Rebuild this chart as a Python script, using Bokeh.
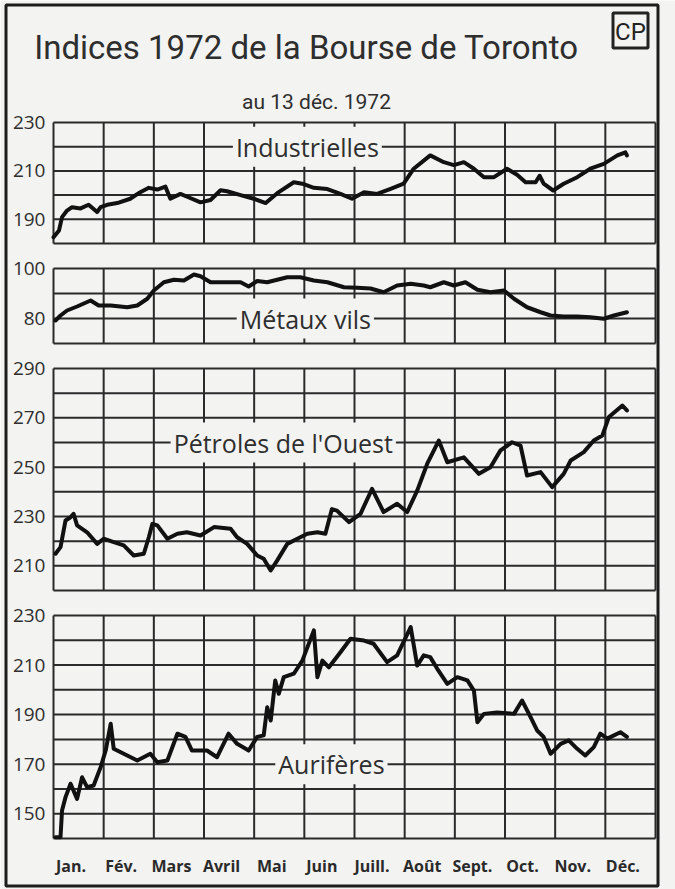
from bokeh.plotting import figure
from bokeh.models import Range1d, Label
from bokeh.embed import file_html
from bokeh.resources import INLINE
from bokeh.core.properties import value

# ---------------- data (x in months since Jan 1, 1972) ----------------
months = ["Jan.", "Fév.", "Mars", "Avril", "Mai", "Juin",
          "Juill.", "Août", "Sept.", "Oct.", "Nov.", "Déc."]

ind_x = [0.00, 0.11, 0.17, 0.27, 0.37, 0.54, 0.70, 0.87, 0.94, 1.07, 1.27, 1.53,
         1.73, 1.90, 2.07, 2.23, 2.33, 2.53, 2.70, 2.93, 3.13, 3.33, 3.46, 3.73,
         3.99, 4.23, 4.46, 4.79, 4.96, 5.19, 5.46, 5.72, 5.95, 6.19, 6.45, 6.72,
         6.98, 7.18, 7.51, 7.78, 7.98, 8.18, 8.38, 8.58, 8.78, 9.04, 9.24, 9.41,
         9.61, 9.69, 9.77, 9.96, 10.17, 10.44, 10.70, 10.97, 11.24, 11.40, 11.43]
ind_y = [182.6, 185.4, 190.9, 193.6, 195.0, 194.5, 196.0, 193.0, 195.0, 196.0, 196.7, 198.5,
         201.2, 203.0, 202.3, 203.5, 198.5, 200.5, 199.0, 197.0, 198.0, 202.0, 201.6, 200.0,
         198.5, 196.7, 200.8, 205.3, 204.7, 203.0, 202.5, 200.5, 198.5, 201.2, 200.5, 202.6,
         204.7, 210.9, 216.4, 213.6, 212.4, 213.6, 210.9, 207.4, 207.4, 210.9, 208.4, 205.3,
         205.3, 208.0, 204.7, 201.9, 204.7, 207.4, 210.9, 212.9, 216.4, 217.7, 216.4]

met_x = [0.04, 0.14, 0.27, 0.47, 0.74, 0.90, 1.14, 1.47, 1.67, 1.87, 2.00, 2.20,
         2.40, 2.60, 2.80, 2.93, 3.13, 3.46, 3.73, 3.89, 4.06, 4.26, 4.46, 4.66,
         4.92, 5.19, 5.46, 5.79, 6.05, 6.32, 6.58, 6.85, 7.12, 7.38, 7.51, 7.78,
         7.98, 8.21, 8.45, 8.71, 8.98, 9.18, 9.44, 9.71, 9.91, 10.17, 10.44, 10.70,
         10.97, 11.17, 11.43]
met_y = [79.2, 81.2, 83.2, 84.8, 87.2, 85.2, 85.2, 84.5, 85.2, 87.9, 91.2, 94.5,
         95.5, 95.2, 97.6, 96.9, 94.5, 94.5, 94.5, 92.8, 95.0, 94.5, 95.5, 96.5,
         96.5, 95.2, 94.5, 92.5, 92.3, 92.0, 90.5, 93.2, 93.9, 93.2, 92.5, 94.5,
         93.2, 94.5, 91.5, 90.5, 91.2, 87.9, 84.5, 82.5, 81.2, 80.8, 80.8, 80.5,
         79.9, 81.2, 82.5]

pet_x = [0.04, 0.14, 0.24, 0.34, 0.40, 0.47, 0.67, 0.87, 1.00, 1.20, 1.40, 1.60,
         1.80, 1.90, 1.97, 2.07, 2.27, 2.47, 2.66, 2.93, 3.20, 3.53, 3.66, 3.86,
         4.06, 4.19, 4.33, 4.46, 4.66, 4.86, 5.06, 5.26, 5.42, 5.55, 5.65, 5.89,
         6.12, 6.35, 6.58, 6.85, 7.05, 7.25, 7.45, 7.68, 7.85, 8.18, 8.48, 8.71,
         8.91, 9.14, 9.31, 9.44, 9.71, 9.94, 10.17, 10.31, 10.57, 10.77, 10.94, 11.07,
         11.34, 11.43]
pet_y = [214.9, 217.6, 228.4, 229.7, 231.1, 226.4, 223.6, 218.9, 221.0, 219.6, 218.3, 214.2,
         214.9, 221.6, 227.0, 226.4, 221.0, 223.0, 223.6, 222.3, 225.7, 225.0, 221.6, 218.9,
         214.2, 212.9, 208.1, 212.2, 218.9, 221.0, 223.0, 223.6, 223.0, 233.0, 232.4, 227.7,
         231.1, 241.2, 231.8, 235.2, 231.8, 240.5, 251.4, 260.8, 252.0, 254.0, 247.3, 250.0,
         256.8, 260.1, 258.7, 246.6, 248.0, 241.9, 247.3, 252.7, 256.1, 260.8, 262.8, 270.3,
         275.0, 273.0]

aur_x = [0.04, 0.14, 0.17, 0.24, 0.34, 0.47, 0.57, 0.67, 0.80, 0.94, 1.04, 1.14,
         1.20, 1.40, 1.67, 1.93, 2.07, 2.27, 2.47, 2.63, 2.76, 3.06, 3.26, 3.49,
         3.66, 3.89, 4.06, 4.19, 4.26, 4.33, 4.42, 4.49, 4.59, 4.79, 4.96, 5.19,
         5.26, 5.36, 5.49, 5.72, 5.92, 6.19, 6.38, 6.65, 6.85, 7.12, 7.25, 7.38,
         7.51, 7.65, 7.85, 8.05, 8.25, 8.38, 8.45, 8.58, 8.84, 9.18, 9.34, 9.51,
         9.64, 9.77, 9.91, 10.11, 10.27, 10.44, 10.60, 10.77, 10.90, 11.04, 11.30, 11.43]
aur_y = [140.5, 140.5, 151.3, 156.7, 162.1, 156.0, 164.7, 160.7, 161.4, 168.8, 175.5, 186.3,
         176.2, 174.2, 171.5, 174.2, 170.8, 171.5, 182.3, 181.0, 175.5, 175.5, 172.8, 182.3,
         178.2, 175.5, 181.0, 181.6, 193.0, 187.6, 203.8, 198.4, 205.1, 206.5, 211.8, 224.0,
         205.1, 211.8, 209.1, 215.2, 220.6, 219.9, 218.6, 211.2, 213.9, 225.3, 209.8, 213.9,
         213.2, 208.5, 202.4, 205.1, 203.8, 199.7, 186.9, 190.3, 190.9, 190.3, 195.7, 189.0,
         183.6, 181.0, 174.2, 178.2, 179.6, 176.2, 173.5, 176.9, 182.3, 180.3, 182.9, 181.0]

ind_ticks = [230, 210, 190]
met_ticks = [100, 80]
pet_ticks = [290, 270, 250, 230, 210]
aur_ticks = [230, 210, 190, 170, 150]

# ---------------- layout (page pixels) ----------------
W, H = 675, 889
OX, OY = 0, 0                      # figure origin on the page
GX0, GX1 = 53, 655                 # month grid left / right
BG = "#f3f3f1"
INK = "#1c1c1c"
GRID = "#2a2a2a"
TXT = "#2e2e2e"

panels = [
    # key, series x, y, vmin, vmax, ticks, page top, page bottom, label, label x (month), label value
    ("ind", ind_x, ind_y, 180, 230, ind_ticks, 122, 243, "Industrielles", 5.06, 220),
    ("met", met_x, met_y, 70, 100, met_ticks, 268, 343, "Métaux vils", 5.02, 80),
    ("pet", pet_x, pet_y, 200, 290, pet_ticks, 368, 590, "Pétroles de l'Ouest", 4.58, 260),
    ("aur", aur_x, aur_y, 140, 230, aur_ticks, 615, 838, "Aurifères", 5.54, 170),
]

p = figure(width=W, height=H, output_backend="svg", toolbar_location=None,
           x_range=Range1d(OX, OX + W), y_range=Range1d(OY + H, OY),
           x_axis_location=None, y_axis_location=None, min_border=0,
           background_fill_color=BG, border_fill_color=BG, outline_line_color=None)
p.grid.visible = False

sm = (GX1 - GX0) / 12.0
p.extra_x_ranges = {"m": Range1d(0 - (GX0 - OX) / sm, 12 + (OX + W - GX1) / sm)}
extra_y = {}
for key, xs, ys, vmin, vmax, ticks, top, bot, lab, lx, lv in panels:
    s = (bot - top) / float(vmax - vmin)
    extra_y[key] = Range1d(vmin - (OY + H - bot) / s, vmax + (top - OY) / s)
p.extra_y_ranges = extra_y

# outer frame
p.quad(left=[5.5], right=[657.5], top=[4.5], bottom=[885.5],
       fill_color=None, line_color=INK, line_width=3)

for key, xs, ys, vmin, vmax, ticks, top, bot, lab, lx, lv in panels:
    hv = list(range(vmin, vmax + 1, 10))
    p.segment(x0=[0] * len(hv), x1=[12] * len(hv), y0=hv, y1=hv,
              x_range_name="m", y_range_name=key, line_color=GRID, line_width=2)
    mv = list(range(0, 13))
    p.segment(x0=mv, x1=mv, y0=[vmin] * 13, y1=[vmax] * 13,
              x_range_name="m", y_range_name=key, line_color=GRID, line_width=2)
    p.line(xs, ys, x_range_name="m", y_range_name=key, line_color="#111111",
           line_width=4, line_join="round", line_cap="round")
    p.text(x=[-0.16] * len(ticks), y=ticks, text=[str(t) for t in ticks],
           x_range_name="m", y_range_name=key, text_align="right",
           text_baseline="middle", text_font=value("Open Sans"),
           text_font_size="19px", text_color=TXT)
    p.add_layout(Label(x=lx, y=lv, x_range_name="m", y_range_name=key, text=lab,
                       text_align="center", text_baseline="middle",
                       text_font="Open Sans", text_font_size="25px",
                       text_color=TXT, background_fill_color=BG,
                       padding=3))

# month labels
p.text(x=[i + 0.35 for i in range(12)], y=[865] * 12, text=months,
       x_range_name="m", text_align="center", text_baseline="middle",
       text_font=value("Open Sans"), text_font_style="bold",
       text_font_size="16px", text_color="#2a2a2a")

# titles
p.add_layout(Label(x=306, y=47, text="Indices 1972 de la Bourse de Toronto",
                   text_align="center", text_baseline="middle",
                   text_font="Roboto", text_font_size="33px",
                   text_color=TXT))
p.add_layout(Label(x=316, y=101, text="au 13 déc. 1972",
                   text_align="center", text_baseline="middle",
                   text_font="Roboto", text_font_size="21px",
                   text_color=TXT))
# CP logo
p.quad(left=[612.5], right=[647.5], top=[12.5], bottom=[47.5],
       fill_color=None, line_color="#222222", line_width=3)
p.add_layout(Label(x=630, y=31, text="CP", text_align="center",
                   text_baseline="middle", text_font="Roboto",
                   text_font_size="24px", text_color="#222222"))

open("out.html", "w").write(file_html(p, INLINE))
